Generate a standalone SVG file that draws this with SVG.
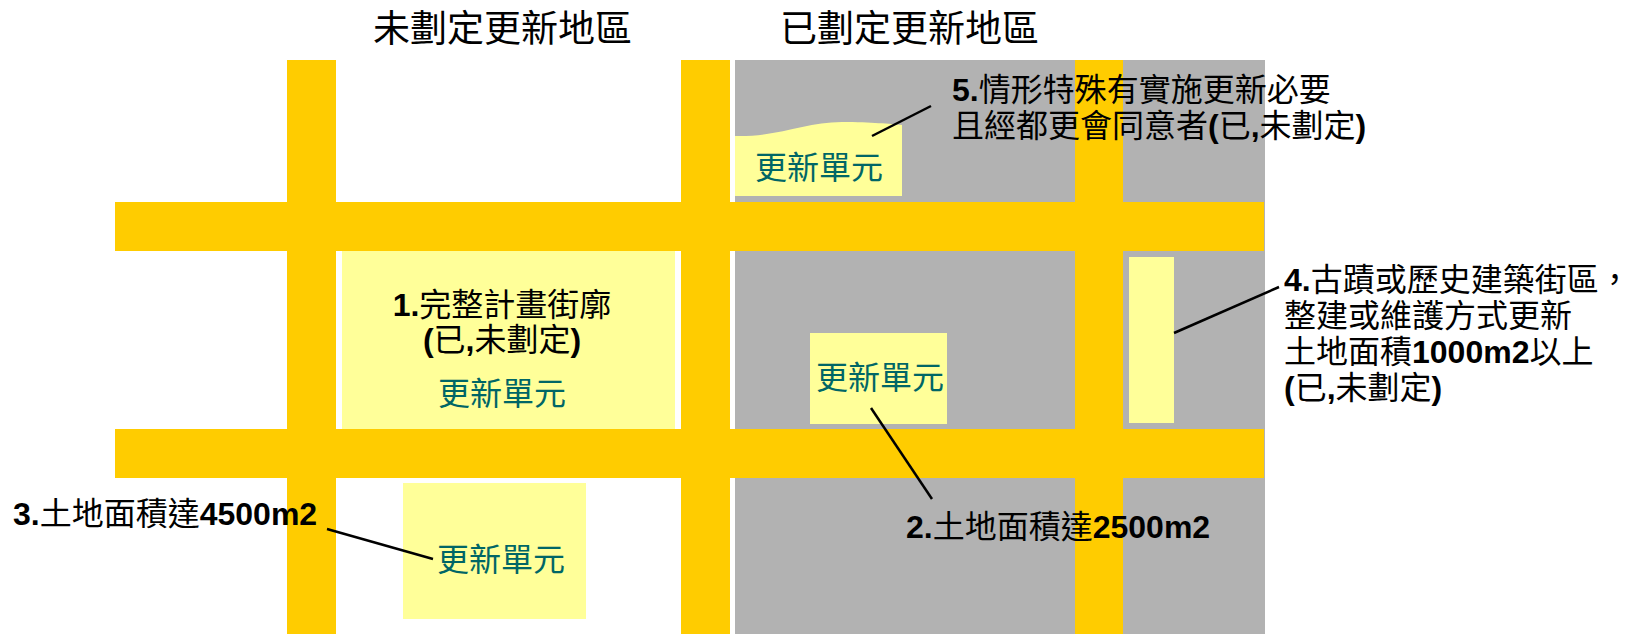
<svg xmlns="http://www.w3.org/2000/svg" width="1632" height="634" viewBox="0 0 1632 634">
<style>
.road{fill:#FFCC00}
.gray{fill:#B2B2B2}
.unit{fill:#FFFF99}
.t{font-family:"Liberation Sans","Noto Sans CJK TC",sans-serif;font-size:32px;fill:#000}
.title{font-family:"Liberation Sans","Noto Sans CJK TC",sans-serif;font-size:37px;fill:#000}
.b{font-weight:bold}
.lbl{font-family:"Noto Sans CJK TC","Liberation Sans",sans-serif;font-size:32px;fill:#006666;text-anchor:middle}
.lead{stroke:#000;stroke-width:2.5;fill:none}
</style>
<rect width="1632" height="634" fill="#fff"/>
<g id="titles">
<text class="title" x="373" y="42">未劃定更新地區</text>
<text class="title" x="780" y="42">已劃定更新地區</text>
</g>
<g id="map">
<rect class="gray" x="735" y="60" width="530" height="574"/>
<rect class="road" x="287" y="60" width="49" height="574"/>
<rect class="road" x="681" y="60" width="49" height="574"/>
<rect class="road" x="1075" y="60" width="48" height="574"/>
<rect class="road" x="115" y="202" width="1149" height="49"/>
<rect class="road" x="115" y="429" width="1149" height="49"/>
</g>
<g id="unit1">
<rect class="unit" x="342" y="251" width="333" height="178"/>
<text class="t" x="502" y="316" text-anchor="middle"><tspan class="b">1.</tspan>完整計畫街廓</text>
<text class="t" x="502" y="351" text-anchor="middle"><tspan class="b">(</tspan>已<tspan class="b">,</tspan>未劃定<tspan class="b">)</tspan></text>
<text class="lbl" x="502" y="405">更新單元</text>
</g>
<g id="unit2">
<rect class="unit" x="810" y="333" width="137" height="91"/>
<text class="lbl" x="880" y="389">更新單元</text>
</g>
<g id="unit3">
<rect class="unit" x="403" y="483" width="183" height="136"/>
<text class="lbl" x="501" y="571">更新單元</text>
</g>
<g id="unit4">
<rect class="unit" x="1129" y="257" width="45" height="166"/>
</g>
<g id="unit5">
<path class="unit" d="M735,136 C780,137 805,122 842,122 C872,122 890,124 902,125 L902,196 L735,196 Z"/>
<text class="lbl" x="819" y="179">更新單元</text>
</g>
<g id="label2">
<text class="t" x="906" y="538"><tspan class="b">2.</tspan>土地面積達<tspan class="b">2500m2</tspan></text>
</g>
<g id="label3">
<text class="t" x="13" y="525"><tspan class="b">3.</tspan>土地面積達<tspan class="b">4500m2</tspan></text>
</g>
<g id="label4">
<text class="t" x="1284" y="291"><tspan class="b">4.</tspan>古蹟或歷史建築街區，</text>
<text class="t" x="1284" y="327">整建或維護方式更新</text>
<text class="t" x="1284" y="363">土地面積<tspan class="b">1000m2</tspan>以上</text>
<text class="t" x="1284" y="399"><tspan class="b">(</tspan>已<tspan class="b">,</tspan>未劃定<tspan class="b">)</tspan></text>
</g>
<g id="label5">
<text class="t" x="952" y="101"><tspan class="b">5.</tspan>情形特殊有實施更新必要</text>
<text class="t" x="952" y="137">且經都更會同意者<tspan class="b">(</tspan>已<tspan class="b">,</tspan>未劃定<tspan class="b">)</tspan></text>
</g>
<g id="connectors">
<line class="lead" x1="872" y1="136" x2="931" y2="106"/>
<line class="lead" x1="1174" y1="333" x2="1279" y2="287"/>
<line class="lead" x1="871" y1="408" x2="932" y2="499"/>
<line class="lead" x1="327" y1="529" x2="433" y2="559"/>
</g>
</svg>
